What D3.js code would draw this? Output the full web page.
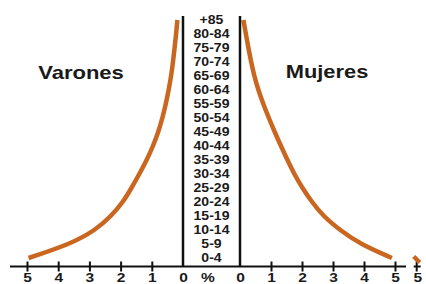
<!DOCTYPE html>
<html>
<head>
<meta charset="utf-8">
<script src="https://cdn.jsdelivr.net/npm/d3@7"></script>
<style>
  body { margin: 0; background: #fff; }
  svg { display: block; }
  text { font-family: "Liberation Sans", Arial, sans-serif; font-weight: bold; fill: #1a1a1a; }
</style>
</head>
<body>
<svg width="426" height="284"></svg>
<script>
// age groups, bottom to top
const ages = ["0-4", "5-9", "10-14", "15-19", "20-24", "25-29", "30-34", "35-39", "40-44",
              "45-49", "50-54", "55-59", "60-64", "65-69", "70-74", "75-79", "80-84", "+85"];
// % of population per age group
const varones = [4.95, 3.6, 2.8, 2.3, 1.92, 1.65, 1.4, 1.16, 0.96, 0.79, 0.66, 0.55, 0.46, 0.38, 0.32, 0.27, 0.22, 0.18];
const mujeres = [4.9, 3.87, 3.22, 2.68, 2.32, 2.01, 1.75, 1.53, 1.32, 1.12, 0.93, 0.75, 0.59, 0.46, 0.36, 0.27, 0.19, 0.11];
const tickVals = [0, 1, 2, 3, 4, 5];

const svg = d3.select("svg");
const orange = "#c9661f";
const axisY = 266.5;

const y = d3.scalePoint().domain(ages).range([258, 20]);
const xL = d3.scaleLinear().domain([0, 5]).range([183, 27]);
const xR = d3.scaleLinear().domain([0, 5]).range([240, 395]);

// curves
const lineL = d3.line()
    .x(d => xL(d))
    .y((d, i) => y(ages[i]))
    .curve(d3.curveBasis);
const lineR = d3.line()
    .x(d => xR(d))
    .y((d, i) => y(ages[i]))
    .curve(d3.curveBasis);

svg.append("path").attr("d", lineL(varones))
    .attr("fill", "none").attr("stroke", orange).attr("stroke-width", 4.5);
svg.append("path").attr("d", lineR(mujeres))
    .attr("fill", "none").attr("stroke", orange).attr("stroke-width", 4.5);

// vertical separators
[xL(0), xR(0)].forEach(x => {
    svg.append("line")
        .attr("x1", x).attr("x2", x)
        .attr("y1", 16).attr("y2", axisY)
        .attr("stroke", "#111").attr("stroke-width", 2.5);
});

// age labels
const mid = (xL(0) + xR(0)) / 2;
svg.selectAll(".age")
    .data(ages)
    .enter().append("text")
    .attr("class", "age")
    .attr("transform", d => `translate(${mid},${y(d)}) scale(1.17,1)`)
    .attr("dy", "0.36em")
    .attr("text-anchor", "middle")
    .style("font-size", "12px")
    .text(d => d);

// horizontal axis line
svg.append("line")
    .attr("x1", 10).attr("x2", 406)
    .attr("y1", axisY).attr("y2", axisY)
    .attr("stroke", "#111").attr("stroke-width", 2);

const labelDy = 15;

function drawAxis(scale) {
    const g = svg.append("g")
        .attr("transform", `translate(0,${axisY})`)
        .call(d3.axisBottom(scale).tickValues(tickVals).tickSize(5).tickFormat(d3.format("d")));
    g.select(".domain").remove();
    g.selectAll(".tick line")
        .attr("y1", -5).attr("y2", 5)
        .attr("stroke", "#111").attr("stroke-width", 2)
        .filter(d => d === 0).remove();
    g.selectAll(".tick text")
        .attr("y", 0).attr("dy", 0)
        .attr("transform", `translate(0,${labelDy}) scale(1.15,1)`)
        .style("font-size", "13.5px")
        .style("font-family", "'Liberation Sans', Arial, sans-serif")
        .style("font-weight", "bold")
        .attr("fill", "#1a1a1a");
    return g;
}
drawAxis(xL);
drawAxis(xR);

// percent sign
svg.append("text")
    .attr("transform", `translate(${xL(0) + 25},${axisY + labelDy}) scale(1.15,1)`)
    .attr("text-anchor", "middle")
    .style("font-size", "13.5px")
    .text("%");

// stray duplicated tick at the right edge of the source image
const stray = xR(5.7);
svg.append("line").attr("x1", stray - 3).attr("x2", stray + 4)
    .attr("y1", axisY).attr("y2", axisY).attr("stroke", "#111").attr("stroke-width", 2);
svg.append("line").attr("x1", stray).attr("x2", stray)
    .attr("y1", axisY - 5).attr("y2", axisY + 5).attr("stroke", "#111").attr("stroke-width", 2);
svg.append("path")
    .attr("d", `M${stray - 3},${axisY - 10} L${stray + 3},${axisY - 4}`)
    .attr("stroke", orange).attr("stroke-width", 4.5);
svg.append("text")
    .attr("transform", `translate(${stray + 1},${axisY + labelDy}) scale(1.15,1)`)
    .attr("text-anchor", "middle")
    .style("font-size", "13.5px")
    .text("5");

// sex labels
svg.append("text")
    .attr("transform", "translate(81,79) scale(1.16,1)")
    .attr("text-anchor", "middle")
    .style("font-size", "19px")
    .text("Varones");
svg.append("text")
    .attr("transform", "translate(327,78) scale(1.15,1)")
    .attr("text-anchor", "middle")
    .style("font-size", "19px")
    .text("Mujeres");
</script>
</body>
</html>
